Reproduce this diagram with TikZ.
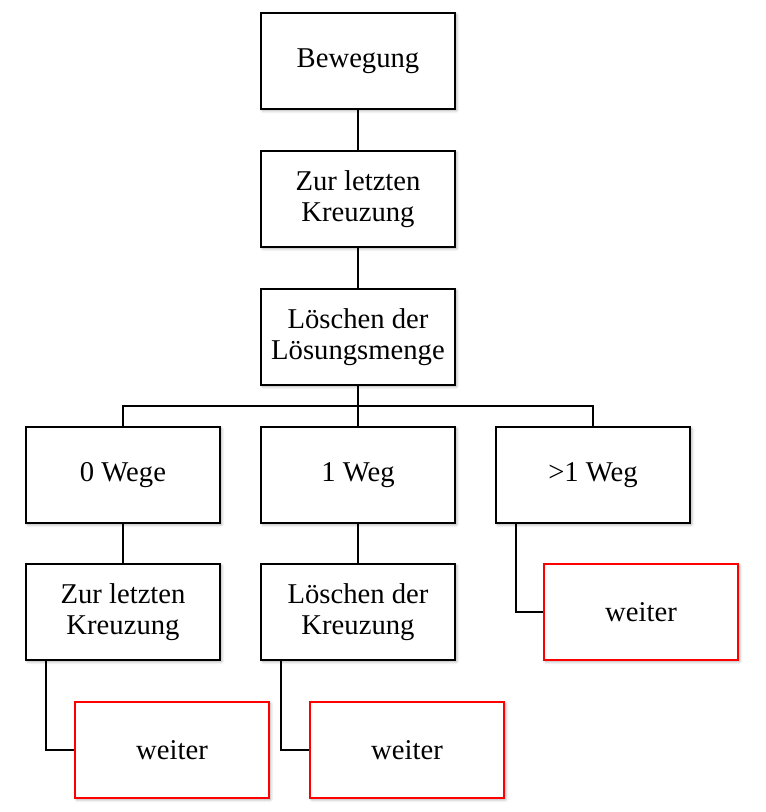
\documentclass[tikz,border=0pt]{standalone}
\usepackage{fontspec}
\setmainfont{Liberation Serif}
\usetikzlibrary{shadows.blur}
\begin{document}
\begin{tikzpicture}[x=0.75pt,y=-0.75pt,
  box/.style={draw=black,line width=1.5pt,fill=white,minimum width=145.5pt,minimum height=72pt,
    inner sep=0pt,align=center,font=\fontsize{21.5}{23}\selectfont,
    blur shadow={shadow xshift=1.2pt,shadow yshift=-1.2pt,shadow blur radius=2pt,shadow opacity=35}},
  redbox/.style={box,draw=red},
  conn/.style={draw=black,line width=1.3pt}]
\useasboundingbox (0,0) rectangle (765,812);
\node[box] (b1) at (358,61) {Bewegung};
\node[box] (b2) at (358,199) {Zur letzten\\Kreuzung};
\node[box] (b3) at (358,337) {Löschen der\\Lösungsmenge};
\node[box] (r4a) at (123,475) {0 Wege};
\node[box] (r4b) at (358,475) {1 Weg};
\node[box] (r4c) at (593,475) {>1 Weg};
\node[box] (r5a) at (123,612) {Zur letzten\\Kreuzung};
\node[box] (r5b) at (358,612) {Löschen der\\Kreuzung};
\node[redbox] (r5c) at (641,612) {weiter};
\node[redbox] (r6a) at (172,750) {weiter};
\node[redbox] (r6b) at (407,750) {weiter};
\coordinate (bus) at (358,406);
\draw[conn] (b1) -- (b2);
\draw[conn] (b2) -- (b3);
\draw[conn] (b3) -- (r4b);
\draw[conn] (r4a.north) |- (bus) -| (r4c.north);
\draw[conn] (r4a) -- (r5a);
\draw[conn] (r4b) -- (r5b);
\draw[conn] ([xshift=-57.75pt]r4c.south) |- (r5c.west);
\draw[conn] ([xshift=-57.75pt]r5a.south) |- (r6a.west);
\draw[conn] ([xshift=-57.75pt]r5b.south) |- (r6b.west);
\end{tikzpicture}
\end{document}
